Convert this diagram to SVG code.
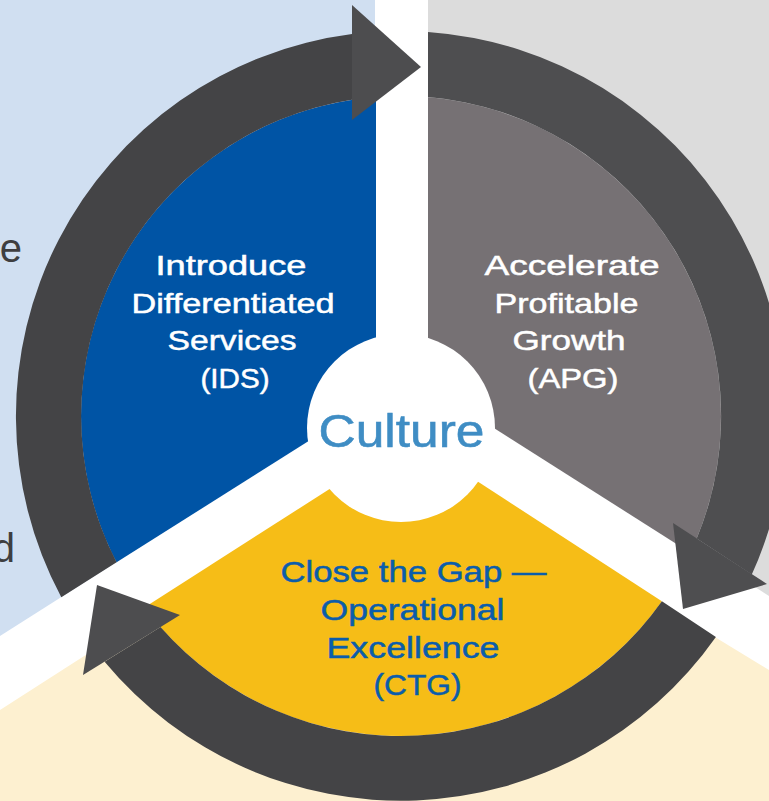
<svg xmlns="http://www.w3.org/2000/svg" width="769" height="801" viewBox="0 0 769 801">
<style>
.lbl{font-family:"Liberation Sans",Arial,sans-serif;text-anchor:middle}
.w{fill:#FFFFFF;stroke:#FFFFFF;stroke-width:0.5px;font-size:28px}
.b{fill:#0B5DAB;stroke:#0B5DAB;stroke-width:0.5px;font-size:30px}
.bgt{font-family:"Liberation Sans",Arial,sans-serif;font-size:40px;fill:#3E3E40;text-anchor:end}
.arcA{fill:#444446}
.arcB{fill:#4E4E50}
.head{fill:#4D4D4F}
</style>
<defs>
<clipPath id="pie"><circle cx="401" cy="416" r="320"/></clipPath>
</defs>
<g id="background">
<rect x="0" y="0" width="769" height="801" fill="#FFFFFF"/>
<polygon points="0,0 375,0 375,398 0,636" fill="#D0DFF1"/>
<polygon points="428,0 769,0 769,596 428,379" fill="#DCDCDC"/>
<polygon points="0,710 407,449 769,670 769,801 0,801" fill="#FDF0D0"/>
<text class="bgt" x="22" y="262">e</text>
<text class="bgt" x="15" y="562">d</text>
</g>
<g id="ids" clip-path="url(#pie)">
<polygon points="0,0 376,0 376,398.4 0,636" fill="#0054A5"/>
</g>
<g id="apg" clip-path="url(#pie)">
<polygon points="428,0 769,0 769,602.7 428,386.2" fill="#767174"/>
</g>
<g id="ctg" clip-path="url(#pie)">
<polygon points="410,437.5 0,699.9 0,801 769,801 769,670.9" fill="#F6BD17"/>
</g>
<g id="connectors">
<path class="arcA" d="M61.3,597.3 A385,385 0 0 1 352,34.1 L352,99.8 A320,320 0 0 0 116.6,562.3 Z"/>
<polygon class="head" points="352,5 421,67 352,120"/>
<path class="arcB" d="M428,31.95 A385,385 0 0 1 751.8,574.6 L696.7,538.5 A320,320 0 0 0 428,97.1 Z"/>
<polygon class="arcB" points="673,523 767,584 683,609"/>
<path class="arcA" d="M715.9,636.9 A385,385 0 0 1 104.6,661.7 L160.5,627.1 A320,320 0 0 0 661.9,601.3 Z"/>
<polygon class="head" points="180,615 97,585 83,675"/>
</g>
<g id="culture">
<circle cx="401" cy="428" r="94" fill="#FFFFFF"/>
<text class="lbl" x="401.5" y="447" font-size="47" fill="#3F8DC4" stroke="#3F8DC4" stroke-width="0.6" textLength="166" lengthAdjust="spacingAndGlyphs">Culture</text>
</g>
<g id="ids-label">
<text class="lbl w" x="231" y="275" textLength="151" lengthAdjust="spacingAndGlyphs">Introduce</text>
<text class="lbl w" x="233" y="313" textLength="203" lengthAdjust="spacingAndGlyphs">Differentiated</text>
<text class="lbl w" x="232" y="350" textLength="129" lengthAdjust="spacingAndGlyphs">Services</text>
<text class="lbl w" x="235" y="388" textLength="69" lengthAdjust="spacingAndGlyphs">(IDS)</text>
</g>
<g id="apg-label">
<text class="lbl w" x="572" y="275" textLength="175" lengthAdjust="spacingAndGlyphs">Accelerate</text>
<text class="lbl w" x="566.5" y="313" textLength="144" lengthAdjust="spacingAndGlyphs">Profitable</text>
<text class="lbl w" x="569" y="350" textLength="113" lengthAdjust="spacingAndGlyphs">Growth</text>
<text class="lbl w" x="573" y="388" textLength="91" lengthAdjust="spacingAndGlyphs">(APG)</text>
</g>
<g id="ctg-label">
<text class="lbl b" x="413.5" y="582" textLength="266" lengthAdjust="spacingAndGlyphs">Close the Gap —</text>
<text class="lbl b" x="412.5" y="620" textLength="184" lengthAdjust="spacingAndGlyphs">Operational</text>
<text class="lbl b" x="413" y="658" textLength="173" lengthAdjust="spacingAndGlyphs">Excellence</text>
<text class="lbl b" x="417.5" y="695" textLength="88" lengthAdjust="spacingAndGlyphs">(CTG)</text>
</g>
</svg>
